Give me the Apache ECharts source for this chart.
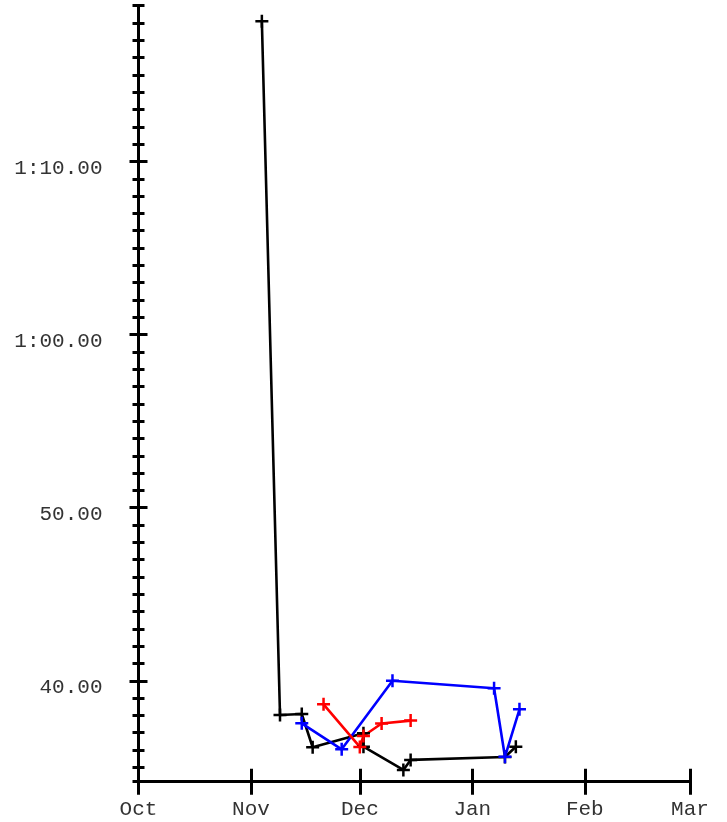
<!DOCTYPE html>
<html>
<head>
<meta charset="utf-8">
<script src="https://cdn.jsdelivr.net/npm/echarts@6/dist/echarts.min.js"></script>
<style>
html,body{margin:0;padding:0;background:#fff;}
#chart{width:727px;height:822px;}
</style>
</head>
<body>
<div id="chart"></div>
<script>
// ---- data ----
const blackDates = ['2023-11-04','2023-11-09','2023-11-15','2023-11-18','2023-12-02','2023-12-02','2023-12-13','2023-12-15','2024-01-10','2024-01-13'];
const blackValues = [78.1, 38.02, 38.08, 36.16, 36.97, 36.19, 34.85, 35.43, 35.60, 36.19];
const blueDates = ['2023-11-15','2023-11-26','2023-12-10','2024-01-07','2024-01-10','2024-01-14'];
const blueValues = [37.54, 36.04, 40.0, 39.57, 35.61, 38.35];
const redDates = ['2023-11-21','2023-12-01','2023-12-02','2023-12-07','2023-12-15'];
const redValues = [38.64, 36.18, 36.81, 37.53, 37.70];
const monthTicks = ['2023-10-01','2023-11-01','2023-12-01','2024-01-01','2024-02-01','2024-03-01'];
const monthLabels = ['Oct','Nov','Dec','Jan','Feb','Mar'];
const yMajorTicks = [40, 50, 60, 70];
const yMajorLabels = ['40.00', '50.00', '1:00.00', '1:10.00'];
const yMin = 34.17, yMax = 79;

// ---- build ----
const t = s => Date.parse(s);
const monthVals = monthTicks.map(t);
const pairs = (d, v) => d.map((x, i) => [t(x), v[i]]);
const yMinor = [];
for (let v = 35; v <= 79; v++) if (yMajorTicks.indexOf(v) < 0) yMinor.push(v);
yMinor.push(yMin);

const plus = 'path://M5.25,0H7.75V5.25H13V7.75H7.75V13H5.25V7.75H0V5.25H5.25Z';
const FONT = '"Liberation Mono", "DejaVu Sans Mono", monospace';

function yAx(ticks, inside, len, showLine, showLabel) {
  return {
    type: 'value', position: 'left', min: yMin, max: yMax,
    splitLine: {show: false},
    axisLine: {show: showLine, onZero: false, lineStyle: {color: '#000', width: 3}},
    axisTick: {show: true, inside: inside, length: len, customValues: ticks, lineStyle: {color: '#000', width: 3}},
    axisLabel: {show: showLabel, customValues: yMajorTicks, margin: 36, color: '#333',
      fontFamily: FONT, fontSize: 21, verticalAlign: 'top', lineHeight: 14,
      formatter: v => yMajorLabels[yMajorTicks.indexOf(v)] || ''}
  };
}
function xAx(inside, showLine, showLabel) {
  return {
    type: 'value', position: 'bottom', min: monthVals[0], max: monthVals[monthVals.length - 1],
    splitLine: {show: false},
    axisLine: {show: showLine, onZero: false, lineStyle: {color: '#000', width: 3}},
    axisTick: {show: true, inside: inside, length: 13, customValues: monthVals, lineStyle: {color: '#000', width: 3}},
    axisLabel: {show: showLabel, customValues: monthVals, margin: 17, color: '#333',
      fontFamily: FONT, fontSize: 21,
      formatter: v => monthLabels[monthVals.indexOf(v)] || ''}
  };
}
function ser(name, d, v, color) {
  return {
    name: name, type: 'line', data: pairs(d, v), xAxisIndex: 0, yAxisIndex: 0,
    symbol: plus, symbolSize: 13, showAllSymbol: true,
    lineStyle: {color: color, width: 2.6},
    itemStyle: {color: color, borderWidth: 0},
    emphasis: {disabled: true}
  };
}

const chart = echarts.init(document.getElementById('chart'), null, {renderer: 'canvas'});
chart.setOption({
  animation: false,
  backgroundColor: '#fff',
  grid: {left: 138.5, right: 37, top: 5.7, bottom: 40.3, containLabel: false},
  xAxis: [xAx(false, true, true), xAx(true, false, false)],
  yAxis: [yAx(yMinor, false, 6, true, true), yAx(yMinor, true, 6, false, false),
          yAx(yMajorTicks, false, 9, false, false), yAx(yMajorTicks, true, 9, false, false)],
  series: [ser('black', blackDates, blackValues, '#000'),
           ser('blue', blueDates, blueValues, '#0000ff'),
           ser('red', redDates, redValues, '#ff0000')]
});
</script>
</body>
</html>
